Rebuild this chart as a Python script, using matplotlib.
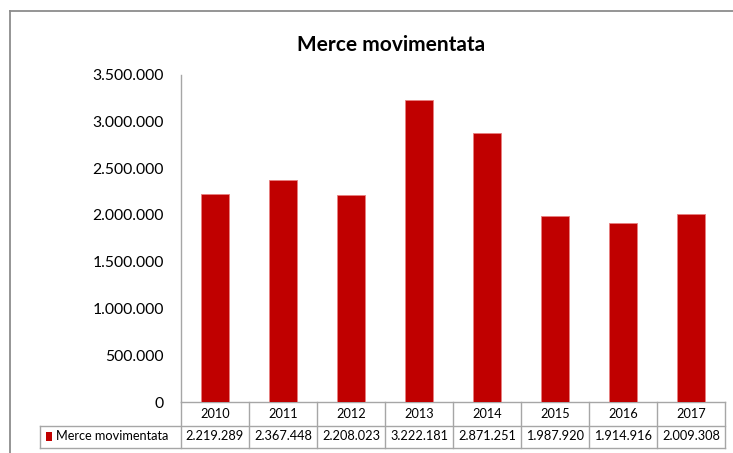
import matplotlib
matplotlib.use("Agg")
import matplotlib.pyplot as plt
from matplotlib.lines import Line2D
from matplotlib.patches import Rectangle
from matplotlib.ticker import FuncFormatter
import matplotlib.transforms as mtransforms

years = ["2010", "2011", "2012", "2013", "2014", "2015", "2016", "2017"]
values = [2219289, 2367448, 2208023, 3222181, 2871251, 1987920, 1914916, 2009308]
series_name = "Merce movimentata"
title = "Merce movimentata"
yticks = [0, 500000, 1000000, 1500000, 2000000, 2500000, 3000000, 3500000]

def fmt(v):
    return f"{int(v):,}".replace(",", ".")

plt.rcParams['font.family'] = ['Lato', 'DejaVu Sans']

W, H = 733, 453
fig = plt.figure(figsize=(W / 100, H / 100), dpi=100)
fig.patch.set_facecolor("white")

ax_l, ax_r, ax_b, ax_t = 181, 725, 402, 74.5
ax = fig.add_axes([ax_l / W, (H - ax_b) / H, (ax_r - ax_l) / W, (ax_b - ax_t) / H])

bar_color = "#C00000"
x = list(range(len(years)))
ax.bar(x, values, width=0.40, color=bar_color, edgecolor="#e88080", linewidth=0.6, zorder=3)

ax.set_xlim(-0.5, len(years) - 0.5)
ax.set_ylim(0, 3500000)
ax.set_yticks(yticks)
ax.yaxis.set_major_formatter(FuncFormatter(lambda v, p: fmt(v)))
ax.tick_params(axis="y", length=0, pad=12.5, labelsize=11.3, labelcolor="#000000")
ax.set_xticks([])
for s in ["top", "right"]:
    ax.spines[s].set_visible(False)
grid_c = "#a6a6a6"
ax.spines["left"].set_color(grid_c)
ax.spines["bottom"].set_color(grid_c)
ax.spines["left"].set_linewidth(1.0)
ax.spines["bottom"].set_linewidth(1.0)

# data table below the axis
blend = mtransforms.blended_transform_factory(ax.transData, ax.transAxes)
ax_h_px = ax_b - ax_t
px_x = (len(years)) / (ax_r - ax_l)
y_mid = -(425.5 - ax_b) / ax_h_px
y_bot = -(447.5 - ax_b) / ax_h_px
x_left = -0.5 - (ax_l - 39.5) * px_x
x_right = len(years) - 0.5

def line(xs, ys):
    ax.add_line(Line2D(xs, ys, transform=blend, color=grid_c, lw=1.0, clip_on=False))

line([x_left, x_right], [y_mid, y_mid])
line([x_left, x_right], [y_bot, y_bot])
line([x_left, x_left], [y_mid, y_bot])
for i in range(len(years) + 1):
    line([i - 0.5, i - 0.5], [0, y_bot])

for i, (yr, v) in enumerate(zip(years, values)):
    ax.text(i, y_mid / 2, yr, transform=blend, ha="center", va="center", fontsize=9.2, color="#000000")
    ax.text(i, (y_mid + y_bot) / 2, fmt(v), transform=blend, ha="center", va="center", fontsize=9.2, color="#000000")

mk_x = x_left + (46 - 39.5) * px_x
ax.add_patch(Rectangle((mk_x, (y_mid + y_bot) / 2 - 0.013), 6 * px_x, 0.026, transform=blend,
                       facecolor=bar_color, edgecolor="none", clip_on=False))
ax.text(x_left + (56.5 - 39.5) * px_x, (y_mid + y_bot) / 2, series_name, transform=blend,
        ha="left", va="center", fontsize=9.2, color="#000000")

ax.set_xlim(-0.5, len(years) - 0.5)
ax.set_ylim(0, 3500000)

# chart border (left & top only visible)
bc = "#8c8c8c"
fig.add_artist(Line2D([10 / W, 10 / W], [0, 1 - 11 / H], transform=fig.transFigure, color=bc, lw=1.3))
fig.add_artist(Line2D([10 / W, 1], [1 - 11 / H, 1 - 11 / H], transform=fig.transFigure, color=bc, lw=1.3))

fig.text(391 / W, 1 - 45 / H, title, ha="center", va="center", fontsize=15, fontweight="bold", color="#000000")

fig.savefig("out.png", dpi=100, facecolor="white")
